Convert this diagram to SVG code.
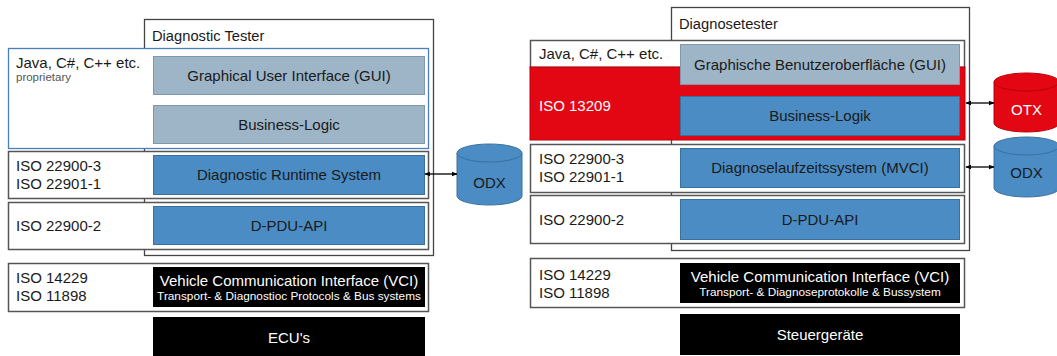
<svg xmlns="http://www.w3.org/2000/svg" width="1057" height="356" viewBox="0 0 1057 356">
<defs>
<style>
text{font-family:"Liberation Sans",Arial,sans-serif;fill:#1a1a1a}
.tester{fill:#fff;stroke:#444;stroke-width:1.3}
.layer{fill:#fff;stroke:#555;stroke-width:1.5}
.gui{fill:#9db5c7;stroke:#7f98ab;stroke-width:1}
.blue{fill:#4a8cc3;stroke:#3a70a0;stroke-width:1}
.black{fill:#000}
.lbl{font-size:15px}
.ctr{font-size:15px;text-anchor:middle}
.sub{font-size:11.8px;text-anchor:middle;fill:#fff}
.wt{fill:#fff}
.conn{stroke:#000;stroke-width:1.3;fill:none;marker-start:url(#ah);marker-end:url(#ah)}
</style>
<marker id="ah" viewBox="0 0 10 10" refX="9" refY="5" markerWidth="6" markerHeight="6" orient="auto-start-reverse" markerUnits="userSpaceOnUse">
<path d="M0,1 L10,5 L0,9 z" fill="#000"/>
</marker>
</defs>
<rect width="1057" height="356" fill="#fff"/>

<!-- LEFT -->
<g id="tester-left">
<rect class="tester" x="144.5" y="19.5" width="289" height="236"/>
<text x="152" y="41" style="font-size:14.7px">Diagnostic Tester</text>
</g>
<g id="layer-java-left">
<rect x="8.5" y="48.5" width="420" height="100" fill="#fff" stroke="#4a7fbf" stroke-width="1.3"/>
<text class="lbl" x="16" y="68">Java, C#, C++ etc.</text>
<text x="16" y="81" style="font-size:11.5px;fill:#555">proprietary</text>
</g>
<g id="gui-left">
<rect class="gui" x="153.5" y="56.5" width="271" height="38"/>
<text class="ctr" x="289" y="81">Graphical User Interface (GUI)</text>
</g>
<g id="logic-left">
<rect class="gui" x="153.5" y="105.5" width="271" height="38"/>
<text class="ctr" x="289" y="130">Business-Logic</text>
</g>
<g id="layer-22900-3-left">
<rect class="layer" x="8.5" y="151.5" width="420" height="47"/>
<text class="lbl" x="16" y="171">ISO 22900-3</text>
<text class="lbl" x="16" y="189">ISO 22901-1</text>
</g>
<g id="runtime-left">
<rect class="blue" x="153.5" y="155.5" width="271" height="39"/>
<text class="ctr" x="289" y="180">Diagnostic Runtime System</text>
</g>
<g id="layer-22900-2-left">
<rect class="layer" x="8.5" y="202.5" width="420" height="47"/>
<text class="lbl" x="16" y="231">ISO 22900-2</text>
</g>
<g id="dpdu-left">
<rect class="blue" x="153.5" y="206.5" width="271" height="38"/>
<text class="ctr" x="289" y="231">D-PDU-API</text>
</g>
<g id="layer-14229-left">
<rect class="layer" x="8.5" y="263.5" width="420" height="48"/>
<text class="lbl" x="16" y="283">ISO 14229</text>
<text class="lbl" x="16" y="301">ISO 11898</text>
</g>
<g id="vci-left">
<rect class="black" x="153" y="267" width="272" height="40"/>
<text class="ctr wt" x="289" y="286">Vehicle Communication Interface (VCI)</text>
<text class="sub" x="289" y="300">Transport- &amp; Diagnostioc Protocols &amp; Bus systems</text>
</g>
<g id="ecu-left">
<rect class="black" x="153" y="317" width="272" height="39"/>
<text class="ctr wt" x="289" y="343">ECU's</text>
</g>
<g id="odx-left">
<path class="blue" d="M457,153 A32.5,9 0 0 1 522,153 L522,196 A32.5,9 0 0 1 457,196 Z"/>
<path d="M457,153 A32.5,9 0 0 0 522,153" fill="none" stroke="#3a70a0" stroke-width="1"/>
<text class="ctr" x="489.5" y="188">ODX</text>
</g>

<!-- RIGHT -->
<g id="tester-right">
<rect class="tester" x="671.5" y="7.5" width="298" height="243"/>
<text x="679" y="29" style="font-size:14.7px">Diagnosetester</text>
</g>
<g id="layer-java-right">
<rect class="layer" x="530.5" y="40.5" width="434" height="27"/>
<text class="lbl" x="539" y="59">Java, C#, C++ etc.</text>
</g>
<g id="layer-13209-right">
<rect x="530" y="67" width="435" height="73" fill="#e30613" stroke="#b8000d" stroke-width="1"/>
<text class="lbl wt" x="539" y="111">ISO 13209</text>
</g>
<g id="gui-right">
<rect class="gui" x="680.5" y="44.5" width="279" height="40"/>
<text class="ctr" x="820" y="70">Graphische Benutzeroberfläche (GUI)</text>
</g>
<g id="logic-right">
<rect class="blue" x="680.5" y="96.5" width="279" height="39"/>
<text class="ctr" x="820" y="121">Business-Logik</text>
</g>
<g id="layer-22900-3-right">
<rect class="layer" x="530.5" y="144.5" width="434" height="48"/>
<text class="lbl" x="539" y="164">ISO 22900-3</text>
<text class="lbl" x="539" y="182">ISO 22901-1</text>
</g>
<g id="runtime-right">
<rect class="blue" x="680.5" y="148.5" width="279" height="39"/>
<text class="ctr" x="820" y="173">Diagnoselaufzeitssystem (MVCI)</text>
</g>
<g id="layer-22900-2-right">
<rect class="layer" x="530.5" y="195.5" width="434" height="48"/>
<text class="lbl" x="539" y="225">ISO 22900-2</text>
</g>
<g id="dpdu-right">
<rect class="blue" x="680.5" y="199.5" width="279" height="40"/>
<text class="ctr" x="820" y="225">D-PDU-API</text>
</g>
<g id="layer-14229-right">
<rect class="layer" x="530.5" y="258.5" width="434" height="49"/>
<text class="lbl" x="539" y="280">ISO 14229</text>
<text class="lbl" x="539" y="298">ISO 11898</text>
</g>
<g id="vci-right">
<rect class="black" x="680" y="263" width="280" height="40"/>
<text class="ctr wt" x="820" y="282">Vehicle Communication Interface (VCI)</text>
<text class="sub" x="820" y="296">Transport- &amp; Diagnoseprotokolle &amp; Bussystem</text>
</g>
<g id="ecu-right">
<rect class="black" x="680" y="314" width="280" height="41"/>
<text class="ctr wt" x="820" y="340">Steuergeräte</text>
</g>
<g id="otx-right">
<path d="M994,82 A32.5,9 0 0 1 1059,82 L1059,123 A32.5,9 0 0 1 994,123 Z" fill="#e30613" stroke="#b8000d" stroke-width="1"/>
<path d="M994,82 A32.5,9 0 0 0 1059,82" fill="none" stroke="#b8000d" stroke-width="1"/>
<text class="ctr wt" x="1026.5" y="115">OTX</text>
</g>
<g id="odx-right">
<path class="blue" d="M994,146 A32.5,9 0 0 1 1059,146 L1059,188 A32.5,9 0 0 1 994,188 Z"/>
<path d="M994,146 A32.5,9 0 0 0 1059,146" fill="none" stroke="#3a70a0" stroke-width="1"/>
<text class="ctr" x="1026.5" y="178">ODX</text>
</g>

<g id="connectors">
<line class="conn" x1="425" y1="174" x2="457" y2="174"/>
<line class="conn" x1="966" y1="103" x2="994" y2="103"/>
<line class="conn" x1="966" y1="167" x2="994" y2="167"/>
</g>
</svg>
